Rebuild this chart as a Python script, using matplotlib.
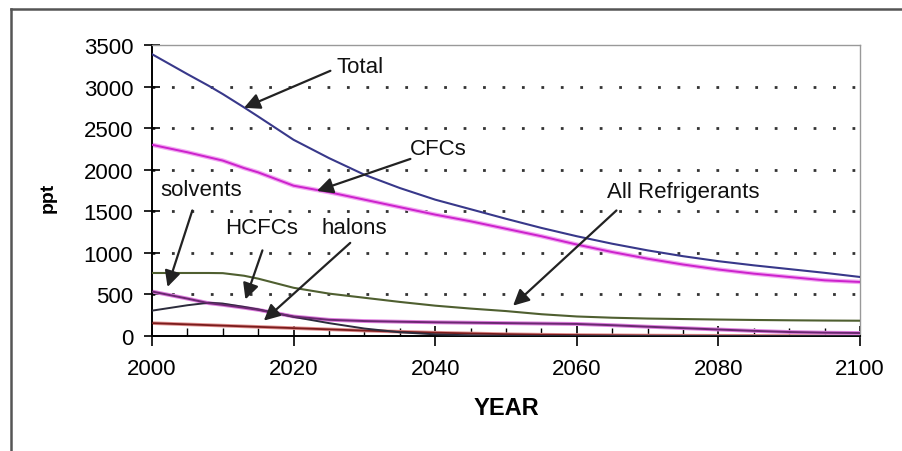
import matplotlib
matplotlib.use("Agg")
import matplotlib.pyplot as plt
from matplotlib.lines import Line2D
from matplotlib.ticker import MultipleLocator

plt.rcParams['font.family'] = ['Liberation Sans', 'DejaVu Sans']

years = [2000, 2005, 2008, 2010, 2013, 2015, 2020, 2025, 2030, 2035, 2040, 2045, 2050,
         2055, 2060, 2065, 2070, 2075, 2080, 2085, 2090, 2095, 2100]
total = [3390, 3150, 3010, 2910, 2750, 2640, 2360, 2140, 1940, 1780, 1640, 1525, 1410,
         1300, 1200, 1110, 1030, 960, 900, 850, 805, 760, 710]
cfcs = [2300, 2210, 2150, 2110, 2020, 1968, 1808, 1730, 1640, 1550, 1460, 1380, 1290,
        1200, 1100, 1010, 930, 860, 800, 750, 710, 670, 650]
refrigerants = [758, 758, 758, 756, 725, 690, 580, 510, 460, 410, 365, 330, 300,
                262, 235, 220, 210, 204, 198, 193, 189, 186, 184]
solvents = [535, 450, 395, 375, 340, 315, 235, 195, 180, 172, 165, 160, 155,
            150, 145, 130, 112, 95, 78, 62, 48, 40, 36]
hcfcs = [305, 370, 400, 390, 350, 320, 230, 155, 90, 45, 20, 8, 2,
         0, 0, 0, 0, 0, 0, 0, 0, 0, 0]
halons = [155, 140, 131, 125, 116, 110, 95, 80, 65, 52, 40, 31, 22,
          16, 12, 9, 6, 4, 3, 2, 1, 0, 0]

# label text, text position, arrow tail, arrow tip (data coords)
labels = [
    ("Total", (2026.1, 3236), (2025.2, 3190), (2013.0, 2745)),
    ("CFCs", (2036.4, 2250), (2036.5, 2130), (2023.3, 1745)),
    ("solvents", (2001.2, 1768), (2005.7, 1510), (2002.2, 590)),
    ("HCFCs", (2010.3, 1311), (2015.6, 1030), (2013.2, 440)),
    ("halons", (2023.9, 1311), (2028.0, 1120), (2015.8, 185)),
    ("All Refrigerants", (2064.2, 1736), (2065.6, 1510), (2051.0, 365)),
]

fig = plt.figure(figsize=(9.03, 4.52), dpi=100)
ax = fig.add_axes([0.1683, 0.2544, 0.7841, 0.6438])

ax.plot(years, halons, color="#e09090", lw=2.6, zorder=2)
ax.plot(years, halons, color="#7a1c1c", lw=1.3, zorder=3)
ax.plot(years, hcfcs, color="#2c2c3c", lw=1.4, zorder=3)
ax.plot(years, solvents, color="#e080e0", lw=2.8, zorder=2)
ax.plot(years, solvents, color="#6a2870", lw=1.4, zorder=3)
ax.plot(years, refrigerants, color="#4f5f30", lw=1.5, zorder=3)
ax.plot(years, cfcs, color="#f2a8f2", lw=3.2, zorder=2)
ax.plot(years, cfcs, color="#cc22cc", lw=1.4, zorder=3)
ax.plot(years, total, color="#38388a", lw=1.5, zorder=3)

ax.set_xlim(2000, 2100)
ax.set_ylim(0, 3500)
ax.set_xticks(range(2000, 2101, 20))
ax.set_yticks(range(0, 3501, 500))
ax.xaxis.set_minor_locator(MultipleLocator(5))

for v in range(500, 3001, 500):
    ax.axhline(v, color="#333333", lw=2, ls=(0, (1, 6)), zorder=1)

for side in ["top", "right"]:
    ax.spines[side].set_color("#999999")
    ax.spines[side].set_linewidth(1)
for side in ["left", "bottom"]:
    ax.spines[side].set_color("black")
    ax.spines[side].set_linewidth(1.4)

ax.tick_params(axis="y", direction="inout", length=11, width=1.2, pad=8, labelsize=16)
ax.tick_params(axis="x", which="major", direction="inout", length=14, width=1.2, pad=9, labelsize=16)
ax.tick_params(axis="x", which="minor", direction="in", length=6, width=1)

for txt, tpos, tail, tip in labels:
    ax.text(tpos[0], tpos[1], txt, fontsize=16, ha="left", va="center", color="#111111")
    ax.annotate("", xy=tip, xytext=tail,
                arrowprops=dict(arrowstyle="-|>", color="#222222", lw=1.6,
                                mutation_scale=24, shrinkA=0, shrinkB=0))

ax.set_xlabel("YEAR", fontsize=17, fontweight="bold", labelpad=12)
ax.set_ylabel("ppt", fontsize=14, fontweight="bold")
ax.yaxis.set_label_coords(-0.134, 0.478)

# outer frame (left and top edges visible)
fig.add_artist(Line2D([0.012, 0.012], [0.0, 0.978], transform=fig.transFigure,
                      color="#555555", lw=1.8))
fig.add_artist(Line2D([0.012, 1.0], [0.978, 0.978], transform=fig.transFigure,
                      color="#555555", lw=1.8))

fig.savefig("out.png", dpi=100)
